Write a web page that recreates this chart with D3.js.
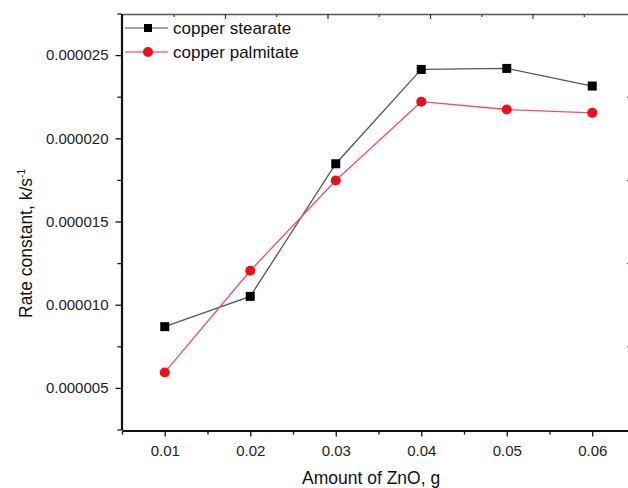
<!DOCTYPE html>
<html><head><meta charset="utf-8">
<script src="https://cdn.jsdelivr.net/npm/d3@7"></script>
<style>body{margin:0;background:#fff}svg{display:block}text{font-family:"Liberation Sans",Arial,sans-serif}</style>
</head><body>
<script>
const xValues = [0.01, 0.02, 0.03, 0.04, 0.05, 0.06];
const stearate = [8.68e-6, 10.5e-6, 18.47e-6, 24.14e-6, 24.2e-6, 23.14e-6];
const palmitate = [5.93e-6, 12.04e-6, 17.46e-6, 22.2e-6, 21.73e-6, 21.53e-6];
const seriesNames = ["copper stearate", "copper palmitate"];
const xMajor = [0.01, 0.02, 0.03, 0.04, 0.05, 0.06];
const xMinor = [0.005, 0.015, 0.025, 0.035, 0.045, 0.055];
const yMajor = [5e-6, 10e-6, 15e-6, 20e-6, 25e-6];
const yMinor = [2.5e-6, 7.5e-6, 12.5e-6, 17.5e-6, 22.5e-6, 27.5e-6];
const topMajor = [1, 2, 3, 4];
const topMinor = [0.5, 1.5, 2.5, 3.5, 4.5];

const W = 628, H = 488;
const svg = d3.select("body").append("svg").attr("width", W).attr("height", H);
const x = d3.scaleLinear().domain([0.005, 0.065]).range([122, 635]);
const y = d3.scaleLinear().domain([2.5e-6, 27.5e-6]).range([429.5, 13.5]);
const xTop = d3.scaleLinear().domain([0, 5]).range([122.5, 635]);
const axisColor = "#111";

function styleAxis(g, w) {
  g.selectAll("path").attr("stroke", axisColor).attr("stroke-width", w);
  g.selectAll("line").attr("stroke", axisColor).attr("stroke-width", 1.3);
  g.selectAll("text").attr("fill", "#222").attr("font-size", "15px");
}

// top axis (no labels)
const gtMin = svg.append("g").attr("transform", "translate(0,14)")
  .call(d3.axisTop(xTop).tickValues(topMinor).tickSize(-3).tickFormat(""));
gtMin.select("path").remove();
gtMin.selectAll("line").attr("stroke", "#333").attr("stroke-width", 1.2);
const gt = svg.append("g").attr("transform", "translate(0,14)")
  .call(d3.axisTop(xTop).tickValues(topMajor).tickSizeInner(-5).tickSizeOuter(0).tickFormat(""));
gt.select("path").attr("stroke", "#555").attr("stroke-width", 1.6);
gt.selectAll("line").attr("stroke", "#333").attr("stroke-width", 1.2);

// right axis (minor marks at edge)
const gr = svg.append("g").attr("transform", "translate(630,0)")
  .call(d3.axisRight(y).tickValues(yMinor.slice(1, 5)).tickSizeInner(-3).tickSizeOuter(0).tickFormat(""));
gr.select("path").remove();
gr.selectAll("line").attr("stroke", "#444").attr("stroke-width", 1);

// bottom axis
const gbMin = svg.append("g").attr("transform", "translate(0,430.5)")
  .call(d3.axisBottom(x).tickValues(xMinor).tickSize(4).tickFormat(""));
gbMin.select("path").remove();
gbMin.selectAll("line").attr("stroke", axisColor).attr("stroke-width", 1.3);
const gb = svg.append("g").attr("transform", "translate(0,430.5)")
  .call(d3.axisBottom(x).tickValues(xMajor).tickSizeInner(6).tickSizeOuter(0).tickPadding(9).tickFormat(d3.format(".2f")));
styleAxis(gb, 2);

// left axis
const glMin = svg.append("g").attr("transform", "translate(121.5,0)")
  .call(d3.axisLeft(y).tickValues(yMinor).tickSize(4).tickFormat(""));
glMin.select("path").remove();
glMin.selectAll("line").attr("stroke", axisColor).attr("stroke-width", 1.3);
const gl = svg.append("g").attr("transform", "translate(121.5,0)")
  .call(d3.axisLeft(y).tickValues(yMajor).tickSizeInner(6).tickSizeOuter(0).tickPadding(7).tickFormat(d3.format(".6f")));
styleAxis(gl, 2.2);

// lines
const line = d3.line().x((d, i) => x(xValues[i])).y(d => y(d));
svg.append("path").datum(stearate).attr("d", line).attr("fill", "none").attr("stroke", "#4e5c5c").attr("stroke-width", 1.3);
svg.append("path").datum(palmitate).attr("d", line).attr("fill", "none").attr("stroke", "#f0506a").attr("stroke-width", 1.3);

const sq = 9;
svg.selectAll("rect.s").data(stearate).enter().append("rect")
  .attr("x", (d, i) => x(xValues[i]) - sq / 2).attr("y", d => y(d) - sq / 2)
  .attr("width", sq).attr("height", sq).attr("fill", "#000");
svg.selectAll("circle.p").data(palmitate).enter().append("circle")
  .attr("cx", (d, i) => x(xValues[i])).attr("cy", d => y(d)).attr("r", 5).attr("fill", "#f00d1a");

// legend
const lg = svg.append("g");
[0, 1].forEach(i => {
  const ly = 28 + i * 24;
  lg.append("line").attr("x1", 125).attr("x2", 168).attr("y1", ly).attr("y2", ly)
    .attr("stroke", i === 0 ? "#7d8a8a" : "#f07080").attr("stroke-width", 1.3);
  if (i === 0) lg.append("rect").attr("x", 144).attr("y", ly - 4).attr("width", 8).attr("height", 8).attr("fill", "#000");
  else lg.append("circle").attr("cx", 148).attr("cy", ly).attr("r", 5).attr("fill", "#f00d1a");
  lg.append("text").attr("x", 173).attr("y", ly + 6).attr("font-size", "17px").attr("fill", "#111").text(seriesNames[i]);
});

// axis titles
svg.append("text").attr("x", 302).attr("y", 484).attr("font-size", "17.5px").attr("fill", "#111").text("Amount of ZnO, g");
const yt = svg.append("text").attr("transform", "translate(32,318) rotate(-90)").attr("font-size", "17.5px").attr("fill", "#111");
yt.append("tspan").text("Rate constant, k/s");
yt.append("tspan").attr("dy", -7).attr("font-size", "10px").text("-1");
</script>
</body></html>
